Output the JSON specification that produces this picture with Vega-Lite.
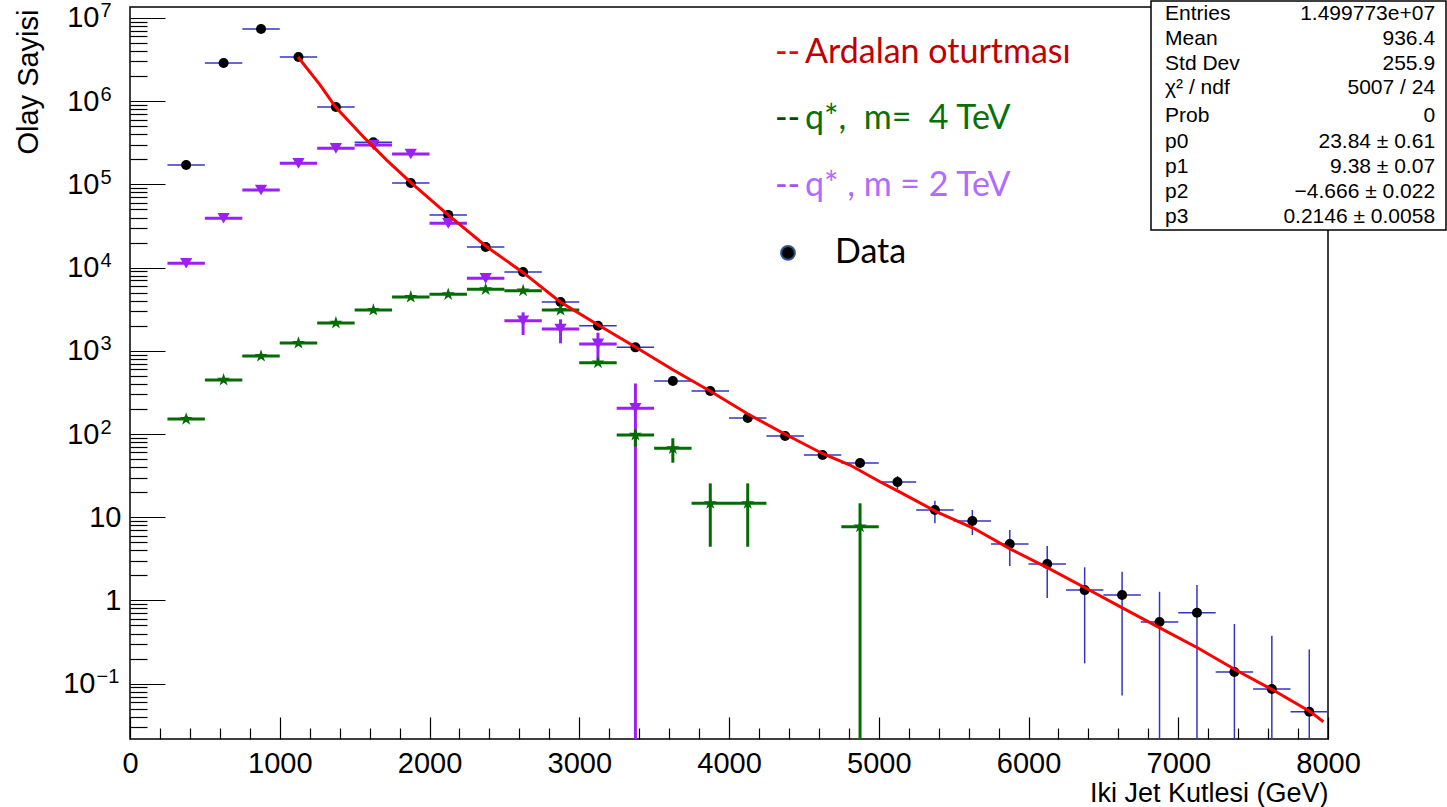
{
"$schema": "https://vega.github.io/schema/vega-lite/v6.json",
"width": 1198, "height": 732,
"autosize": {"type": "none"},
"padding": {"left": 130, "top": 7, "right": 119, "bottom": 68},
"background": "white",
"config": {
  "view": {"stroke": "black", "strokeWidth": 1.5},
  "axis": {"grid": false, "domain": false, "labelFont": "Liberation Sans", "titleFont": "Liberation Sans", "labelColor": "black", "titleColor": "black", "tickColor": "black", "tickWidth": 1.2, "titleFontWeight": "normal", "labelFontSize": 29}
},
"datasets": {
  "dat": [
    {"m":375,"x0":250,"x1":500,"n":171000,"lo":171000,"hi":171000},
    {"m":625,"x0":500,"x1":750,"n":2880000,"lo":2880000,"hi":2880000},
    {"m":875,"x0":750,"x1":1000,"n":7380000,"lo":7380000,"hi":7380000},
    {"m":1125,"x0":1000,"x1":1250,"n":3400000,"lo":3400000,"hi":3400000},
    {"m":1375,"x0":1250,"x1":1500,"n":850000,"lo":850000,"hi":850000},
    {"m":1625,"x0":1500,"x1":1750,"n":320000,"lo":320000,"hi":320000},
    {"m":1875,"x0":1750,"x1":2000,"n":104000,"lo":104000,"hi":104000},
    {"m":2125,"x0":2000,"x1":2250,"n":43000,"lo":43000,"hi":43000},
    {"m":2375,"x0":2250,"x1":2500,"n":17700,"lo":17700,"hi":17700},
    {"m":2625,"x0":2500,"x1":2750,"n":8850,"lo":8850,"hi":8850},
    {"m":2875,"x0":2750,"x1":3000,"n":3860,"lo":3860,"hi":3860},
    {"m":3125,"x0":3000,"x1":3250,"n":2000,"lo":2000,"hi":2000},
    {"m":3375,"x0":3250,"x1":3500,"n":1100,"lo":1100,"hi":1100},
    {"m":3625,"x0":3500,"x1":3750,"n":434,"lo":434,"hi":434},
    {"m":3875,"x0":3750,"x1":4000,"n":329,"lo":329,"hi":329},
    {"m":4125,"x0":4000,"x1":4250,"n":156,"lo":156,"hi":156},
    {"m":4375,"x0":4250,"x1":4500,"n":94.6,"lo":94.6,"hi":94.6},
    {"m":4625,"x0":4500,"x1":4750,"n":56,"lo":56,"hi":56},
    {"m":4875,"x0":4750,"x1":5000,"n":44.8,"lo":44.8,"hi":44.8},
    {"m":5125,"x0":5000,"x1":5250,"n":26.5,"lo":21.8,"hi":31.3},
    {"m":5375,"x0":5250,"x1":5500,"n":12.2,"lo":8.45,"hi":15.8},
    {"m":5625,"x0":5500,"x1":5750,"n":9.0,"lo":6.1,"hi":12.2},
    {"m":5875,"x0":5750,"x1":6000,"n":4.76,"lo":2.59,"hi":7.0},
    {"m":6125,"x0":6000,"x1":6250,"n":2.74,"lo":1.07,"hi":4.5},
    {"m":6375,"x0":6250,"x1":6500,"n":1.33,"lo":0.175,"hi":2.5},
    {"m":6625,"x0":6500,"x1":6750,"n":1.16,"lo":0.072,"hi":2.21},
    {"m":6875,"x0":6750,"x1":7000,"n":0.55,"lo":0.0216,"hi":1.27},
    {"m":7125,"x0":7000,"x1":7250,"n":0.71,"lo":0.0216,"hi":1.53},
    {"m":7375,"x0":7250,"x1":7500,"n":0.138,"lo":0.0216,"hi":0.52},
    {"m":7625,"x0":7500,"x1":7750,"n":0.086,"lo":0.0216,"hi":0.377},
    {"m":7875,"x0":7750,"x1":8000,"n":0.046,"lo":0.0216,"hi":0.258}
  ],
  "q2": [
    {"m":375,"x0":250,"x1":500,"n":11300,"lo":11300,"hi":11300},
    {"m":625,"x0":500,"x1":750,"n":39200,"lo":39200,"hi":39200},
    {"m":875,"x0":750,"x1":1000,"n":85700,"lo":85700,"hi":85700},
    {"m":1125,"x0":1000,"x1":1250,"n":179000,"lo":179000,"hi":179000},
    {"m":1375,"x0":1250,"x1":1500,"n":271000,"lo":271000,"hi":271000},
    {"m":1625,"x0":1500,"x1":1750,"n":298000,"lo":298000,"hi":298000},
    {"m":1875,"x0":1750,"x1":2000,"n":232000,"lo":232000,"hi":232000},
    {"m":2125,"x0":2000,"x1":2250,"n":34000,"lo":34000,"hi":34000},
    {"m":2375,"x0":2250,"x1":2500,"n":7430,"lo":7430,"hi":7430},
    {"m":2625,"x0":2500,"x1":2750,"n":2300,"lo":1550,"hi":2900},
    {"m":2875,"x0":2750,"x1":3000,"n":1830,"lo":1230,"hi":2390},
    {"m":3125,"x0":3000,"x1":3250,"n":1210,"lo":775,"hi":1650},
    {"m":3375,"x0":3250,"x1":3500,"n":204,"lo":0.0216,"hi":405}
  ],
  "q4": [
    {"m":375,"x0":250,"x1":500,"n":151,"lo":140,"hi":165},
    {"m":625,"x0":500,"x1":750,"n":446,"lo":446,"hi":446},
    {"m":875,"x0":750,"x1":1000,"n":865,"lo":865,"hi":865},
    {"m":1125,"x0":1000,"x1":1250,"n":1240,"lo":1240,"hi":1240},
    {"m":1375,"x0":1250,"x1":1500,"n":2160,"lo":2160,"hi":2160},
    {"m":1625,"x0":1500,"x1":1750,"n":3090,"lo":3090,"hi":3090},
    {"m":1875,"x0":1750,"x1":2000,"n":4430,"lo":4430,"hi":4430},
    {"m":2125,"x0":2000,"x1":2250,"n":4770,"lo":4770,"hi":4770},
    {"m":2375,"x0":2250,"x1":2500,"n":5480,"lo":5480,"hi":5480},
    {"m":2625,"x0":2500,"x1":2750,"n":5270,"lo":5270,"hi":5270},
    {"m":2875,"x0":2750,"x1":3000,"n":3090,"lo":3090,"hi":3090},
    {"m":3125,"x0":3000,"x1":3250,"n":719,"lo":719,"hi":719},
    {"m":3375,"x0":3250,"x1":3500,"n":97.3,"lo":70.5,"hi":112},
    {"m":3625,"x0":3500,"x1":3750,"n":67.3,"lo":45.2,"hi":88.8},
    {"m":3875,"x0":3750,"x1":4000,"n":14.7,"lo":4.42,"hi":25.5},
    {"m":4125,"x0":4000,"x1":4250,"n":14.7,"lo":4.42,"hi":25.5},
    {"m":4875,"x0":4750,"x1":5000,"n":7.69,"lo":0.0216,"hi":14.7}
  ],
  "fit": [
    {"m":1122,"f":3400000},{"m":1269,"f":1570000},{"m":1374,"f":845000},{"m":1558,"f":374000},
    {"m":1714,"f":196000},{"m":1876,"f":105000},{"m":2126,"f":42800},{"m":2382,"f":17800},
    {"m":2626,"f":8690},{"m":2871,"f":3890},{"m":3127,"f":2040},{"m":3372,"f":1120},
    {"m":3628,"f":587},{"m":3873,"f":329},{"m":4129,"f":172.5},{"m":4385,"f":97.3},
    {"m":4630,"f":57.5},{"m":4808,"f":42.4},{"m":5008,"f":26.7},{"m":5135,"f":20.3},
    {"m":5387,"f":11.6},{"m":5634,"f":7.36},{"m":5883,"f":4.11},{"m":6135,"f":2.43},
    {"m":6384,"f":1.40},{"m":6633,"f":0.803},{"m":6883,"f":0.462},{"m":7134,"f":0.266},
    {"m":7384,"f":0.146},{"m":7633,"f":0.0838},{"m":7882,"f":0.046},{"m":7969,"f":0.0348}
  ],
  "stats": [
    {"label":"Entries","value":"1.499773e+07","at":11170000},
    {"label":"Mean","value":"936.4","at":5600000},
    {"label":"Std Dev","value":"255.9","at":2800000},
    {"label":"χ² / ndf","value":"5007 / 24","at":1440000},
    {"label":"Prob","value":"0","at":664000},
    {"label":"p0","value":"23.84 ± 0.61","at":324000},
    {"label":"p1","value":"9.38 ± 0.07","at":162000},
    {"label":"p2","value":"−4.666 ± 0.022","at":81000},
    {"label":"p3","value":"0.2146 ± 0.0058","at":40600}
  ],
  "leg": [
    {"text":"--","key":"fitdash","gx":4307,"gy":3800000},
    {"text":"Ardalan oturtması","key":"fittext","gx":4508,"gy":3800000},
    {"text":"--","key":"q4dash","gx":4307,"gy":610000},
    {"text":"q*,\u00a0 m=\u00a0 4 TeV","key":"q4text","gx":4508,"gy":610000},
    {"text":"--","key":"q2dash","gx":4307,"gy":95700},
    {"text":"q* , m = 2 TeV","key":"q2text","gx":4508,"gy":95700},
    {"text":"Data","key":"data","gx":4708,"gy":15000}
  ]
},
"resolve": {"axis": {"x": "independent", "y": "independent"}},
"layer": [
  {
    "data": {"name": "dat"},
    "mark": {"type": "rule", "color": "#3535c0", "strokeWidth": 1.5},
    "encoding": {
      "x": {"field": "x0", "type": "quantitative", "scale": {"domain": [0, 8000], "nice": false, "zero": false},
        "axis": {"orient": "bottom", "values": [0,1000,2000,3000,4000,5000,6000,7000,8000], "format": "d", "ticks": false, "labelPadding": 10, "labelFlush": false,
          "title": "Iki Jet Kutlesi (GeV)", "titleFontSize": 27, "titleX": 1198, "titleY": 54, "titleAlign": "right", "titleBaseline": "middle", "titleAnchor": null}},
      "x2": {"field": "x1"},
      "y": {"field": "n", "type": "quantitative", "scale": {"type": "log", "domain": [0.0216, 13550000], "nice": false},
        "axis": {"orient": "left", "values": [0.1,1,10,100,1000,10000,100000,1000000,10000000], "ticks": false,
          "labelPadding": {"condition": [{"test": "datum.value > 0.5 && datum.value < 50", "value": 9}, {"test": "datum.value < 0.5", "value": 35}], "value": 31},
          "labelExpr": "datum.value > 0.5 && datum.value < 5 ? '1' : '10'",
          "title": "Olay Sayisi", "titleFontSize": 29, "titleX": -102, "titleY": 2, "titleAngle": -90, "titleAlign": "right", "titleBaseline": "middle", "titleAnchor": null}}
    }
  },
  {
    "data": {"name": "dat"},
    "mark": {"type": "rule", "color": "#3535c0", "strokeWidth": 1.5},
    "encoding": {
      "x": {"field": "m", "type": "quantitative", "scale": {"domain": [0, 8000], "nice": false, "zero": false},
        "axis": {"orient": "bottom", "values": [0,1000,2000,3000,4000,5000,6000,7000,8000], "labels": false, "tickSize": -22, "title": null}},
      "y": {"field": "lo", "type": "quantitative", "scale": {"type": "log", "domain": [0.0216, 13550000], "nice": false},
        "axis": {"orient": "left", "values": [0.1,1,10,100,1000,10000,100000,1000000,10000000], "labels": false, "tickSize": -35, "title": null}},
      "y2": {"field": "hi"}
    }
  },
  {
    "data": {"name": "dat"},
    "mark": {"type": "point", "filled": true, "color": "black", "size": 100, "opacity": 1},
    "encoding": {
      "x": {"field": "m", "type": "quantitative", "scale": {"domain": [0, 8000], "nice": false, "zero": false},
        "axis": {"orient": "bottom", "values": [200,400,600,800,1200,1400,1600,1800,2200,2400,2600,2800,3200,3400,3600,3800,4200,4400,4600,4800,5200,5400,5600,5800,6200,6400,6600,6800,7200,7400,7600,7800], "labels": false, "tickSize": -11, "title": null}},
      "y": {"field": "n", "type": "quantitative", "scale": {"type": "log", "domain": [0.0216, 13550000], "nice": false},
        "axis": {"orient": "left", "values": [0.03,0.04,0.05,0.06,0.07,0.08,0.09,0.2,0.3,0.4,0.5,0.6,0.7,0.8,0.9,2,3,4,5,6,7,8,9,20,30,40,50,60,70,80,90,200,300,400,500,600,700,800,900,2000,3000,4000,5000,6000,7000,8000,9000,20000,30000,40000,50000,60000,70000,80000,90000,200000,300000,400000,500000,600000,700000,800000,900000,2000000,3000000,4000000,5000000,6000000,7000000,8000000,9000000], "labels": false, "tickSize": -17, "title": null}}
    }
  },
  {
    "data": {"name": "q2"},
    "mark": {"type": "rule", "color": "#9a20f5", "strokeWidth": 3},
    "encoding": {
      "x": {"field": "x0", "type": "quantitative", "scale": {"domain": [0, 8000], "nice": false, "zero": false}, "axis": null},
      "x2": {"field": "x1"},
      "y": {"field": "n", "type": "quantitative", "scale": {"type": "log", "domain": [0.0216, 13550000], "nice": false},
        "axis": {"orient": "left", "values": [0.1,100,1000,10000,100000,1000000,10000000], "ticks": false, "title": null,
          "labelFontSize": 20, "labelAlign": "left", "labelOffset": -7,
          "labelPadding": {"condition": {"test": "datum.value < 0.5", "value": 34}, "value": 30},
          "labelExpr": "datum.value < 0.5 ? '−1' : '' + round(log(datum.value)/LN10)"}}
    }
  },
  {
    "data": {"name": "q2"},
    "mark": {"type": "rule", "color": "#9a20f5", "strokeWidth": 3},
    "encoding": {
      "x": {"field": "m", "type": "quantitative", "scale": {"domain": [0, 8000], "nice": false, "zero": false}, "axis": null},
      "y": {"field": "lo", "type": "quantitative", "scale": {"type": "log", "domain": [0.0216, 13550000], "nice": false}, "axis": null},
      "y2": {"field": "hi"}
    }
  },
  {
    "data": {"name": "q2"},
    "mark": {"type": "point", "shape": "triangle-down", "filled": true, "color": "#9a20f5", "size": 150, "opacity": 1},
    "encoding": {
      "x": {"field": "m", "type": "quantitative", "scale": {"domain": [0, 8000], "nice": false, "zero": false}, "axis": null},
      "y": {"field": "n", "type": "quantitative", "scale": {"type": "log", "domain": [0.0216, 13550000], "nice": false}, "axis": null}
    }
  },
  {
    "data": {"name": "q4"},
    "mark": {"type": "rule", "color": "#036b03", "strokeWidth": 3},
    "encoding": {
      "x": {"field": "x0", "type": "quantitative", "scale": {"domain": [0, 8000], "nice": false, "zero": false}, "axis": null},
      "x2": {"field": "x1"},
      "y": {"field": "n", "type": "quantitative", "scale": {"type": "log", "domain": [0.0216, 13550000], "nice": false}, "axis": null}
    }
  },
  {
    "data": {"name": "q4"},
    "mark": {"type": "rule", "color": "#036b03", "strokeWidth": 3},
    "encoding": {
      "x": {"field": "m", "type": "quantitative", "scale": {"domain": [0, 8000], "nice": false, "zero": false}, "axis": null},
      "y": {"field": "lo", "type": "quantitative", "scale": {"type": "log", "domain": [0.0216, 13550000], "nice": false}, "axis": null},
      "y2": {"field": "hi"}
    }
  },
  {
    "data": {"name": "q4"},
    "mark": {"type": "point", "shape": "M0,-1L0.2245,-0.309L0.951,-0.309L0.363,0.118L0.588,0.809L0,0.382L-0.588,0.809L-0.363,0.118L-0.951,-0.309L-0.2245,-0.309Z", "filled": true, "color": "#036b03", "size": 190, "opacity": 1},
    "encoding": {
      "x": {"field": "m", "type": "quantitative", "scale": {"domain": [0, 8000], "nice": false, "zero": false}, "axis": null},
      "y": {"field": "n", "type": "quantitative", "scale": {"type": "log", "domain": [0.0216, 13550000], "nice": false}, "axis": null}
    }
  },
  {
    "data": {"name": "fit"},
    "mark": {"type": "line", "color": "#ff0000", "strokeWidth": 3},
    "encoding": {
      "x": {"field": "m", "type": "quantitative", "scale": {"domain": [0, 8000], "nice": false, "zero": false}, "axis": null},
      "y": {"field": "f", "type": "quantitative", "scale": {"type": "log", "domain": [0.0216, 13550000], "nice": false}, "axis": null}
    }
  },
  {
    "data": {"values": [{"box": "stats"}]},
    "mark": {"type": "rect", "fill": "white", "stroke": "black", "strokeWidth": 1.5},
    "encoding": {
      "x": {"datum": 6818, "type": "quantitative", "scale": {"domain": [0, 8000], "nice": false, "zero": false}, "axis": null},
      "x2": {"datum": 8788},
      "y": {"datum": 28300, "type": "quantitative", "scale": {"type": "log", "domain": [0.0216, 13550000], "nice": false}, "axis": null},
      "y2": {"datum": 16000000}
    }
  },
  {
    "data": {"name": "stats"},
    "mark": {"type": "text", "align": "left", "baseline": "middle", "font": "Liberation Sans", "fontSize": 21, "color": "black"},
    "encoding": {
      "x": {"datum": 6912, "type": "quantitative", "scale": {"domain": [0, 8000], "nice": false, "zero": false}, "axis": null},
      "y": {"field": "at", "type": "quantitative", "scale": {"type": "log", "domain": [0.0216, 13550000], "nice": false}, "axis": null},
      "text": {"field": "label"}
    }
  },
  {
    "data": {"name": "stats"},
    "mark": {"type": "text", "align": "right", "baseline": "middle", "font": "Liberation Sans", "fontSize": 21, "color": "black"},
    "encoding": {
      "x": {"datum": 8715, "type": "quantitative", "scale": {"domain": [0, 8000], "nice": false, "zero": false}, "axis": null},
      "y": {"field": "at", "type": "quantitative", "scale": {"type": "log", "domain": [0.0216, 13550000], "nice": false}, "axis": null},
      "text": {"field": "value"}
    }
  },
  {
    "data": {"name": "leg"},
    "mark": {"type": "text", "align": "left", "baseline": "middle", "font": "Lato", "fontSize": 34},
    "encoding": {
      "x": {"field": "gx", "type": "quantitative", "scale": {"domain": [0, 8000], "nice": false, "zero": false}, "axis": null},
      "y": {"field": "gy", "type": "quantitative", "scale": {"type": "log", "domain": [0.0216, 13550000], "nice": false}, "axis": null},
      "text": {"field": "text"},
      "color": {"field": "key", "type": "nominal", "legend": null,
        "scale": {"domain": ["fitdash","fittext","q4dash","q4text","q2dash","q2text","data"], "range": ["#ff0000","#c00000","#004d00","#087008","#a64ff5","#b26bff","#000000"]}}
    }
  },
  {
    "data": {"values": [{"marker": "Data"}]},
    "mark": {"type": "point", "filled": true, "fill": "black", "stroke": "#2f5597", "strokeWidth": 2, "size": 190, "opacity": 1},
    "encoding": {
      "x": {"datum": 4394, "type": "quantitative", "scale": {"domain": [0, 8000], "nice": false, "zero": false}, "axis": null},
      "y": {"datum": 15000, "type": "quantitative", "scale": {"type": "log", "domain": [0.0216, 13550000], "nice": false}, "axis": null}
    }
  }
]
}
